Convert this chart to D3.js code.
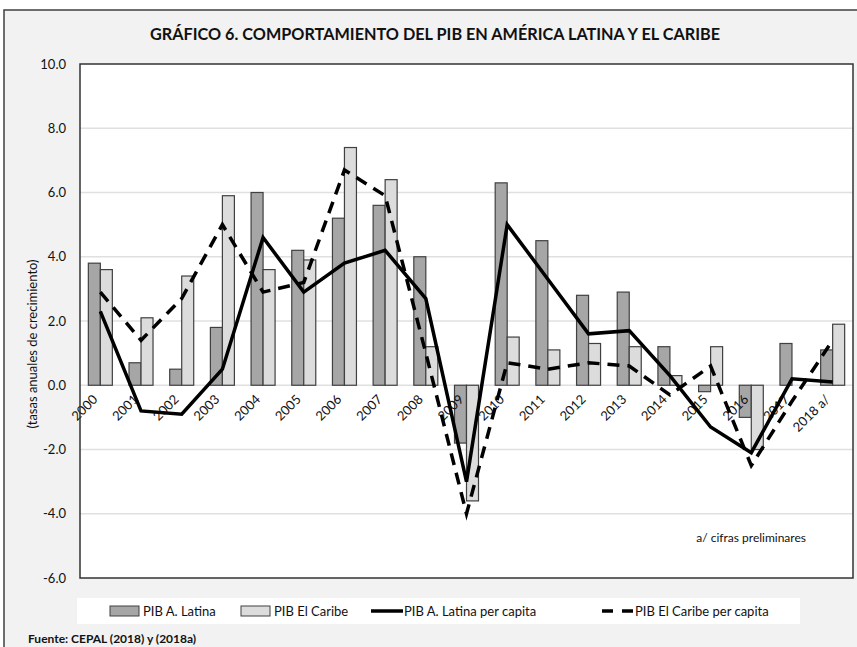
<!DOCTYPE html>
<html>
<head>
<meta charset="utf-8">
<script src="https://cdn.jsdelivr.net/npm/d3@7"></script>
<style>
  body { margin: 0; background: #fff; }
  svg { display: block; font-family: Lato, "Open Sans", sans-serif; }
</style>
</head>
<body>
<svg id="chart" width="857" height="647"></svg>
<script>
// chart values
const years = ['2000', '2001', '2002', '2003', '2004', '2005', '2006', '2007', '2008', '2009',
  '2010', '2011', '2012', '2013', '2014', '2015', '2016', '2017', '2018 a/'];
const pibLatina = [3.8, 0.7, 0.5, 1.8, 6.0, 4.2, 5.2, 5.6, 4.0, -1.8,
  6.3, 4.5, 2.8, 2.9, 1.2, -0.2, -1.0, 1.3, 1.1];
const pibCaribe = [3.6, 2.1, 3.4, 5.9, 3.6, 3.9, 7.4, 6.4, 1.2, -3.6,
  1.5, 1.1, 1.3, 1.2, 0.3, 1.2, -2.0, 0.0, 1.9];
const latinaPerCapita = [2.3, -0.8, -0.9, 0.5, 4.6, 2.9, 3.8, 4.2, 2.7, -3.0,
  5.0, 3.3, 1.6, 1.7, 0.3, -1.3, -2.1, 0.2, 0.1];
const caribePerCapita = [2.9, 1.4, 2.7, 5.0, 2.9, 3.2, 6.7, 5.9, 1.0, -4.0,
  0.7, 0.5, 0.7, 0.6, -0.3, 0.6, -2.5, -0.5, 1.4];
const yTicks = [-6, -4, -2, 0, 2, 4, 6, 8, 10];

const svg = d3.select('#chart');
const plot = {left: 80, right: 853, top: 64, bottom: 578};

// frame + background
svg.append('rect')
  .attr('x', 4).attr('y', 10).attr('width', 870).attr('height', 660)
  .attr('fill', '#f2f2f2').attr('stroke', '#404040').attr('stroke-width', 1.5);

svg.append('text')
  .attr('x', 435).attr('y', 39.5)
  .attr('text-anchor', 'middle')
  .attr('font-size', 17.5).attr('font-weight', 'bold')
  .attr('textLength', 570).attr('lengthAdjust', 'spacingAndGlyphs')
  .attr('fill', '#111')
  .text('GRÁFICO 6. COMPORTAMIENTO DEL PIB EN AMÉRICA LATINA Y EL CARIBE');

const x = d3.scaleBand()
  .domain(years)
  .range([plot.left, plot.right])
  .paddingInner(0.41)
  .paddingOuter(0.205);
const xSub = d3.scaleBand()
  .domain(['latina', 'caribe'])
  .range([0, x.bandwidth()]);
const y = d3.scaleLinear().domain([-6, 10]).range([plot.bottom, plot.top]);
const cx = d => x(d) + x.bandwidth() / 2;

svg.append('rect')
  .attr('x', plot.left).attr('y', plot.top)
  .attr('width', plot.right - plot.left).attr('height', plot.bottom - plot.top)
  .attr('fill', '#fff');

// gridlines
svg.append('g')
  .selectAll('line')
  .data(yTicks.filter(t => t !== -6 && t !== 10))
  .enter().append('line')
  .attr('x1', plot.left).attr('x2', plot.right)
  .attr('y1', d => y(d)).attr('y2', d => y(d))
  .attr('stroke', '#e0e0e0').attr('stroke-width', 1.5);

// y axis labels (hyphen minus, like the source)
const fmt = d3.format('.1f');
const yAxis = svg.append('g')
  .attr('transform', `translate(${plot.left},0)`)
  .call(d3.axisLeft(y).tickValues(yTicks)
    .tickFormat(d => fmt(d).replace('\u2212', '-'))
    .tickSize(0).tickPadding(14));
yAxis.select('.domain').remove();
yAxis.selectAll('text')
  .attr('font-size', 13).attr('fill', '#111')
  .style('font-family', 'Lato, sans-serif');

svg.append('text')
  .attr('transform', 'translate(37,344) rotate(-90)')
  .attr('text-anchor', 'middle')
  .attr('font-size', 13).attr('fill', '#111')
  .text('(tasas anuales de crecimiento)');

// bars
const barData = years.flatMap((yr, i) => [
  {yr, key: 'latina', v: pibLatina[i]},
  {yr, key: 'caribe', v: pibCaribe[i]},
]);
svg.append('g')
  .selectAll('rect')
  .data(barData)
  .enter().append('rect')
  .attr('x', d => x(d.yr) + xSub(d.key))
  .attr('width', xSub.bandwidth())
  .attr('y', d => y(Math.max(0, d.v)))
  .attr('height', d => Math.abs(y(d.v) - y(0)))
  .attr('fill', d => d.key === 'latina' ? '#a6a6a6' : '#dcdcdc')
  .attr('stroke', '#404040').attr('stroke-width', 1.2);

// x labels, rotated
svg.append('g')
  .selectAll('text')
  .data(years)
  .enter().append('text')
  .attr('transform', d => `translate(${cx(d) - 2},${y(0) + 15}) rotate(-45)`)
  .attr('text-anchor', 'end')
  .attr('font-size', 13).attr('fill', '#111')
  .text(d => d);

// per capita lines
const line = d3.line()
  .x((d, i) => cx(years[i]))
  .y(d => y(d));
svg.append('path')
  .attr('d', line(latinaPerCapita))
  .attr('fill', 'none').attr('stroke', '#000').attr('stroke-width', 3.5)
  .attr('stroke-linejoin', 'miter');
svg.append('path')
  .attr('d', line(caribePerCapita))
  .attr('fill', 'none').attr('stroke', '#000').attr('stroke-width', 3.5)
  .attr('stroke-dasharray', '12,8');

// plot border
svg.append('rect')
  .attr('x', plot.left).attr('y', plot.top)
  .attr('width', plot.right - plot.left).attr('height', plot.bottom - plot.top)
  .attr('fill', 'none').attr('stroke', '#333').attr('stroke-width', 1.5);

svg.append('text')
  .attr('x', 806).attr('y', 542)
  .attr('text-anchor', 'end')
  .attr('font-size', 12).attr('fill', '#111')
  .text('a/ cifras preliminares');

// legend
const legend = svg.append('g');
legend.append('rect')
  .attr('x', 77).attr('y', 598).attr('width', 723).attr('height', 26)
  .attr('fill', '#fff');
const legendItems = [
  {label: 'PIB A. Latina', type: 'bar', fill: '#a6a6a6', x: 110},
  {label: 'PIB El Caribe', type: 'bar', fill: '#dcdcdc', x: 241},
  {label: 'PIB A. Latina per capita', type: 'line', x: 371},
  {label: 'PIB El Caribe per capita', type: 'dash', x: 602},
];
legendItems.forEach(it => {
  if (it.type === 'bar') {
    legend.append('rect')
      .attr('x', it.x).attr('y', 606).attr('width', 29).attr('height', 10)
      .attr('fill', it.fill).attr('stroke', '#404040').attr('stroke-width', 1);
  } else {
    legend.append('line')
      .attr('x1', it.x).attr('x2', it.x + 32)
      .attr('y1', 611).attr('y2', 611)
      .attr('stroke', '#000').attr('stroke-width', 3.5)
      .attr('stroke-dasharray', it.type === 'dash' ? '11,9' : null);
  }
  legend.append('text')
    .attr('x', it.x + 33).attr('y', 615.5)
    .attr('font-size', 13).attr('fill', '#111')
    .text(it.label);
});

svg.append('text')
  .attr('x', 28).attr('y', 643)
  .attr('font-size', 12).attr('font-weight', 'bold').attr('fill', '#111')
  .text('Fuente: CEPAL (2018) y (2018a)');
</script>
</body>
</html>
